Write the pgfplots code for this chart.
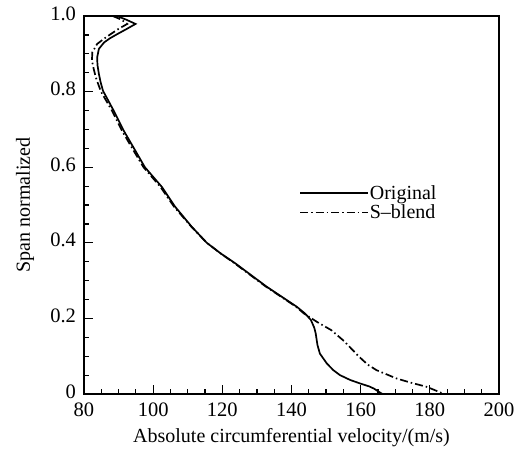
\documentclass[border=0pt]{standalone}
\usepackage{pgfplots}
\pgfplotsset{compat=1.18}
\usepackage{fontspec}
\setmainfont{Liberation Serif}
\begin{document}
\begin{tikzpicture}
\path[use as bounding box] (-84pt,-57pt) rectangle (435pt,394pt);
\begin{axis}[
  at={(0pt,0pt)}, anchor=south west,
  scale only axis, width=415pt, height=378pt,
  xmin=80, xmax=200, ymin=0, ymax=1,
  xtick={80,100,...,200},
  minor xtick={85,90,...,195},
  ytick={0,0.2,0.4,0.6,0.8,1.0},
  yticklabels={0,0.2,0.4,0.6,0.8,1.0},
  minor ytick={0.05,0.1,0.15,0.25,0.3,0.35,0.45,0.5,0.55,0.65,0.7,0.75,0.85,0.9,0.95},
  tick pos=left,
  tick align=inside,
  major tick length=9pt,
  minor tick length=5pt,
  every tick/.style={black, line width=1.2pt},
  axis line style={line width=2.4pt},
  /pgf/number format/assume math mode=true,
  tick label style={font=\fontsize{20.5}{23}\selectfont, inner sep=1pt},
  xticklabel style={yshift=-7.8pt},
  yticklabel style={xshift=-6.8pt, yshift=2.5pt},
  xlabel={Absolute circumferential velocity/(m/s)},
  ylabel={Span normalized},
  label style={font=\fontsize{20}{23}\selectfont},
  xlabel style={at={(axis description cs:0.5,-0.116)}, anchor=center},
  ylabel style={at={(axis description cs:-0.142,0.5)}, anchor=center},
  legend style={at={(axis description cs:0.518,0.555)}, anchor=north west,
    draw=none, fill=none, inner sep=0pt, font=\fontsize{20}{23}\selectfont,
    row sep=2pt, nodes={inner sep=1pt}},
  legend cell align=left,
  legend image code/.code={\draw[#1] (0pt,0pt) -- (68pt,0pt);},
]
\addplot[black, line width=1.7pt] coordinates {
(89.5,1.0) (92.3,0.99) (94.9,0.979) (92.4,0.966) (89.6,0.952) (87.5,0.941)
(85.8,0.930) (84.3,0.913) (83.8,0.890) (83.9,0.870) (84.3,0.847) (84.8,0.825)
(85.5,0.802) (88.5,0.751) (91.4,0.698) (94.7,0.646) (97.6,0.600) (102.5,0.548)
(106.3,0.496) (111.1,0.443) (115.5,0.400) (119.5,0.372) (123.7,0.346)
(132.8,0.284) (141.5,0.231) (143.9,0.213) (145.6,0.196) (146.6,0.175)
(147.0,0.160) (147.5,0.130) (148.2,0.107) (150.2,0.081) (152.1,0.063)
(154.0,0.050) (157.0,0.037) (159.8,0.028) (162.5,0.020) (163.9,0.014)
(165.4,0.005) (166.3,0.0)
};
\addlegendentry{Original}
\addplot[black, line width=1.7pt, dash pattern=on 8pt off 3pt on 1.5pt off 3pt] coordinates {
(88.3,1.0) (90.9,0.99) (92.5,0.979) (90.0,0.966) (87.7,0.952) (85.5,0.938)
(83.8,0.926) (82.4,0.904) (82.3,0.882) (82.8,0.860) (83.4,0.838) (84.9,0.800)
(88.0,0.751) (90.9,0.698) (94.2,0.646) (97.2,0.600) (102.1,0.548) (106.0,0.496)
(111.0,0.443) (115.5,0.400) (119.5,0.372) (123.5,0.346) (132.6,0.284)
(141.3,0.231) (143.6,0.213) (147.5,0.190) (151.5,0.169) (155.2,0.140)
(159.5,0.099) (162.0,0.078) (164.6,0.063) (170.4,0.041) (174.5,0.030)
(179.1,0.019) (181.5,0.010) (183.6,0.002) (184.0,0.0)
};
\addlegendentry{S--blend}
\end{axis}
\end{tikzpicture}
\end{document}
